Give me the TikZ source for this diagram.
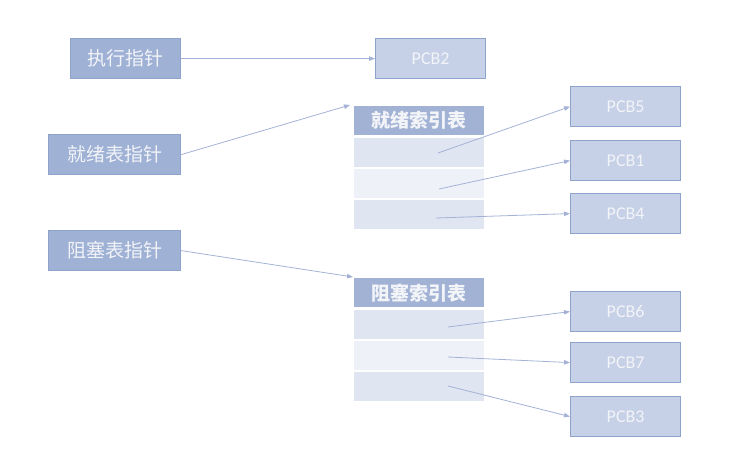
\documentclass[tikz,border=0pt]{standalone}
\usepackage{fontspec}
\setmainfont{Carlito}
\newfontfamily\cjk{Noto Sans CJK SC}
\usetikzlibrary{arrows.meta}
\definecolor{ptrfill}{HTML}{9FB1D5}
\definecolor{ptrline}{HTML}{8EA2CC}
\definecolor{pcbfill}{HTML}{C6D0E6}
\definecolor{hdrfill}{HTML}{A1B2D5}
\definecolor{rowA}{HTML}{DFE5F1}
\definecolor{rowB}{HTML}{EEF2F8}
\definecolor{arr}{HTML}{A3B2D6}
\definecolor{txt}{HTML}{F2F4F8}
\tikzset{
  ptrbox/.style={draw=ptrline, line width=1.2pt, fill=ptrfill, text=txt, anchor=north west,
    minimum height=40pt, inner sep=0pt, font=\cjk\fontsize{19}{22}\selectfont},
  pcbbox/.style={draw=ptrline, line width=1.2pt, fill=pcbfill, text=txt, anchor=north west,
    minimum width=110pt, minimum height=40pt, inner sep=0pt, font=\fontsize{18}{21}\selectfont},
  hdrbox/.style={fill=hdrfill, text=txt, anchor=north west, minimum width=130pt,
    minimum height=29pt, inner sep=0pt, font=\cjk\bfseries\fontsize{19}{22}\selectfont},
  rowbox/.style={anchor=north west, minimum width=130pt, minimum height=29pt, inner sep=0pt},
  link/.style={draw=arr, line width=0.8pt, -{Triangle[length=6pt,width=4.5pt]}}
}
\begin{document}
\begin{tikzpicture}[x=1pt,y=-1pt]
\useasboundingbox (0,0) rectangle (753,476);
% pointers
\node[ptrbox, minimum width=110pt] (exec) at (70,38) {执行指针};
\node[ptrbox, minimum width=132pt] (readyp) at (48,134) {就绪表指针};
\node[ptrbox, minimum width=132pt] (blockp) at (48,230) {阻塞表指针};
% PCBs
\node[pcbbox] (pcb2) at (375,38) {PCB2};
\node[pcbbox] (pcb5) at (570,86) {PCB5};
\node[pcbbox] (pcb1) at (570,140) {PCB1};
\node[pcbbox] (pcb4) at (570,193) {PCB4};
\node[pcbbox] (pcb6) at (570,291) {PCB6};
\node[pcbbox] (pcb7) at (570,342) {PCB7};
\node[pcbbox] (pcb3) at (570,396) {PCB3};
% ready table
\node[hdrbox] (rh) at (354,106) {就绪索引表};
\node[rowbox, fill=rowA] (r1) at (354,138) {};
\node[rowbox, fill=rowB] (r2) at (354,169) {};
\node[rowbox, fill=rowA] (r3) at (354,200) {};
% blocked table
\node[hdrbox] (bh) at (354,278) {阻塞索引表};
\node[rowbox, fill=rowA] (b1) at (354,310) {};
\node[rowbox, fill=rowB] (b2) at (354,341) {};
\node[rowbox, fill=rowA] (b3) at (354,372) {};
% anchor points
\coordinate (rin) at (350,105);
\coordinate (bin) at (353,277);
\coordinate (r1s) at (438,153);
\coordinate (r2s) at (439,189);
\coordinate (r3s) at (436,218);
\coordinate (b1s) at (448,327);
\coordinate (b2s) at (448,357);
\coordinate (b3s) at (448,386);
% connectors
\draw[link] (exec.east) -- (pcb2.west);
\draw[link] (readyp.east) -- (rin);
\draw[link] (blockp.east) -- (bin);
\draw[link] (r1s) -- (pcb5.west);
\draw[link] (r2s) -- (pcb1.west);
\draw[link] (r3s) -- (pcb4.west);
\draw[link] (b1s) -- (pcb6.west);
\draw[link] (b2s) -- (pcb7.west);
\draw[link] (b3s) -- (pcb3.west);
\end{tikzpicture}
\end{document}
